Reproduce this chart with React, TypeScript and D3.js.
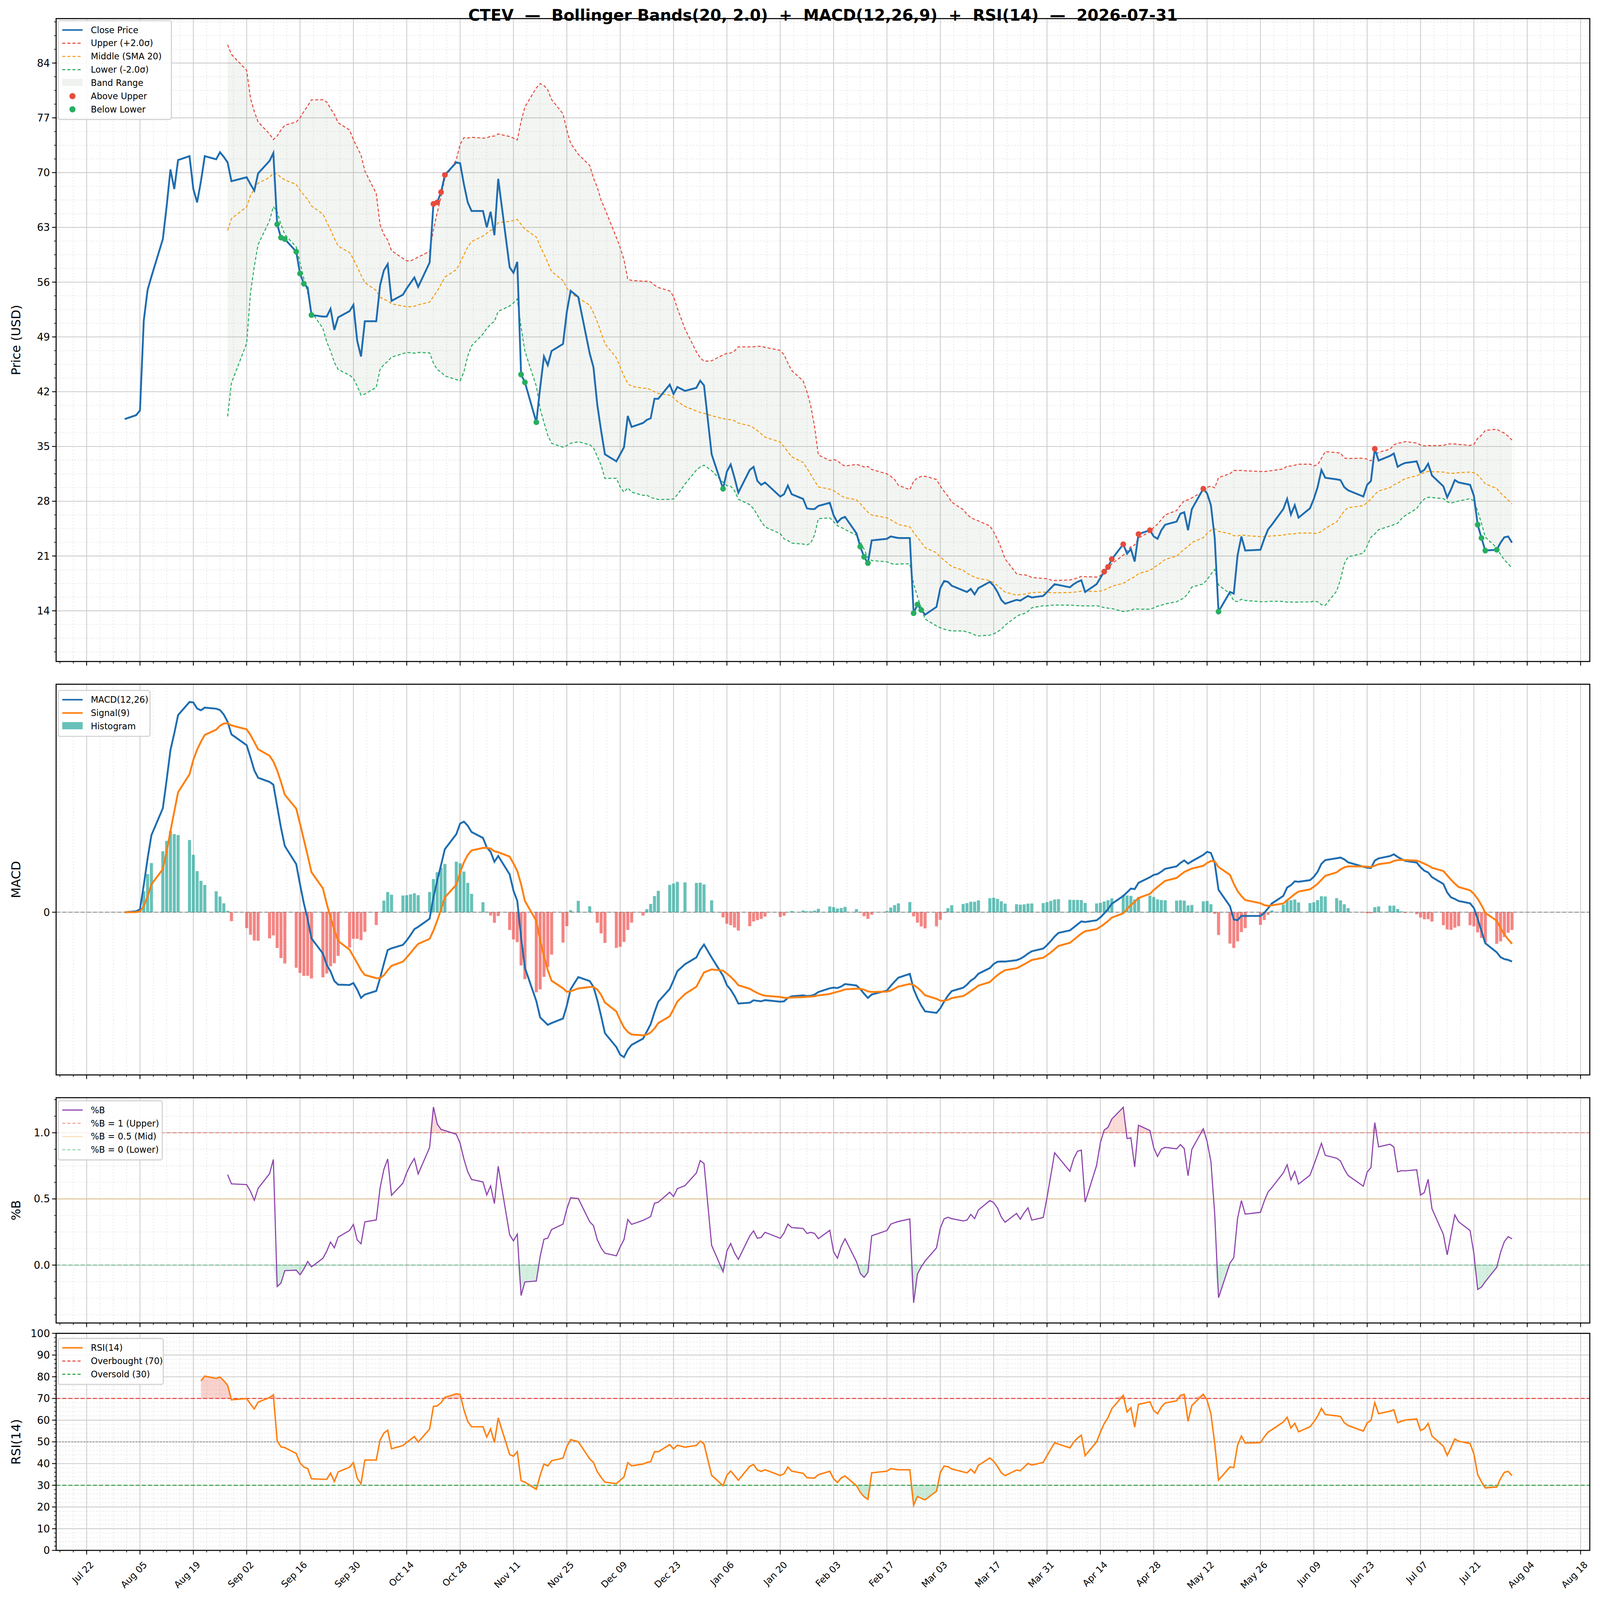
import React from 'react';
import * as d3 from 'd3';

// daily closes
const dates = [
	'2025-08-01','2025-08-04','2025-08-05','2025-08-06','2025-08-07','2025-08-08','2025-08-11','2025-08-12','2025-08-13','2025-08-14',
	'2025-08-15','2025-08-18','2025-08-19','2025-08-20','2025-08-21','2025-08-22','2025-08-25','2025-08-26','2025-08-27','2025-08-28',
	'2025-08-29','2025-09-02','2025-09-03','2025-09-04','2025-09-05','2025-09-08','2025-09-09','2025-09-10','2025-09-11','2025-09-12',
	'2025-09-15','2025-09-16','2025-09-17','2025-09-18','2025-09-19','2025-09-22','2025-09-23','2025-09-24','2025-09-25','2025-09-26',
	'2025-09-29','2025-09-30','2025-10-01','2025-10-02','2025-10-03','2025-10-06','2025-10-07','2025-10-08','2025-10-09','2025-10-10',
	'2025-10-13','2025-10-14','2025-10-15','2025-10-16','2025-10-17','2025-10-20','2025-10-21','2025-10-22','2025-10-23','2025-10-24',
	'2025-10-27','2025-10-28','2025-10-29','2025-10-30','2025-10-31','2025-11-03','2025-11-04','2025-11-05','2025-11-06','2025-11-07',
	'2025-11-10','2025-11-11','2025-11-12','2025-11-13','2025-11-14','2025-11-17','2025-11-18','2025-11-19','2025-11-20','2025-11-21',
	'2025-11-24','2025-11-25','2025-11-26','2025-11-28','2025-12-01','2025-12-02','2025-12-03','2025-12-04','2025-12-05','2025-12-08',
	'2025-12-09','2025-12-10','2025-12-11','2025-12-12','2025-12-15','2025-12-16','2025-12-17','2025-12-18','2025-12-19','2025-12-22',
	'2025-12-23','2025-12-24','2025-12-26','2025-12-29','2025-12-30','2025-12-31','2026-01-02','2026-01-05','2026-01-06','2026-01-07',
	'2026-01-08','2026-01-09','2026-01-12','2026-01-13','2026-01-14','2026-01-15','2026-01-16','2026-01-20','2026-01-21','2026-01-22',
	'2026-01-23','2026-01-26','2026-01-27','2026-01-28','2026-01-29','2026-01-30','2026-02-02','2026-02-03','2026-02-04','2026-02-05',
	'2026-02-06','2026-02-09','2026-02-10','2026-02-11','2026-02-12','2026-02-13','2026-02-17','2026-02-18','2026-02-19','2026-02-20',
	'2026-02-23','2026-02-24','2026-02-25','2026-02-26','2026-02-27','2026-03-02','2026-03-03','2026-03-04','2026-03-05','2026-03-06',
	'2026-03-09','2026-03-10','2026-03-11','2026-03-12','2026-03-13','2026-03-16','2026-03-17','2026-03-18','2026-03-19','2026-03-20',
	'2026-03-23','2026-03-24','2026-03-25','2026-03-26','2026-03-27','2026-03-30','2026-03-31','2026-04-01','2026-04-02','2026-04-03',
	'2026-04-06','2026-04-07','2026-04-08','2026-04-09','2026-04-10','2026-04-13','2026-04-14','2026-04-15','2026-04-16','2026-04-17',
	'2026-04-20','2026-04-21','2026-04-22','2026-04-23','2026-04-24','2026-04-27','2026-04-28','2026-04-29','2026-04-30','2026-05-01',
	'2026-05-04','2026-05-05','2026-05-06','2026-05-07','2026-05-08','2026-05-11','2026-05-12','2026-05-13','2026-05-14','2026-05-15',
	'2026-05-18','2026-05-19','2026-05-20','2026-05-21','2026-05-22','2026-05-26','2026-05-27','2026-05-28','2026-05-29','2026-06-01',
	'2026-06-02','2026-06-03','2026-06-04','2026-06-05','2026-06-08','2026-06-09','2026-06-10','2026-06-11','2026-06-12','2026-06-15',
	'2026-06-16','2026-06-17','2026-06-18','2026-06-22','2026-06-23','2026-06-24','2026-06-25','2026-06-26','2026-06-29','2026-06-30',
	'2026-07-01','2026-07-02','2026-07-03','2026-07-06','2026-07-07','2026-07-08','2026-07-09','2026-07-10','2026-07-13','2026-07-14',
	'2026-07-15','2026-07-16','2026-07-17','2026-07-20','2026-07-21','2026-07-22','2026-07-23','2026-07-24','2026-07-27','2026-07-28',
	'2026-07-29','2026-07-30','2026-07-31',
];

const closes = [
	38.5,39.0,39.6,51.1,55.0,56.7,61.5,65.7,70.4,67.9,
	71.6,72.1,67.9,66.2,68.9,72.1,71.7,72.6,72.0,71.3,
	68.9,69.4,68.5,67.7,69.9,71.5,72.5,63.4,61.7,61.5,
	59.9,57.1,55.8,55.3,51.8,51.6,51.6,52.6,49.9,51.5,
	52.3,53.1,48.5,46.5,51.0,51.0,55.6,57.5,58.3,53.6,
	54.4,55.2,55.9,56.6,55.4,58.5,66.0,66.2,67.5,69.7,
	71.3,71.2,68.5,66.2,65.1,65.1,63.0,65.0,62.0,69.2,
	57.9,57.2,58.6,44.2,43.2,38.1,42.5,46.5,45.4,47.2,
	48.1,52.2,54.9,54.1,46.9,45.1,40.3,37.0,34.0,33.1,
	34.0,34.9,38.9,37.5,38.0,38.4,38.6,41.1,41.1,42.9,
	41.7,42.6,42.1,42.5,43.4,42.8,34.0,29.6,31.8,32.7,
	31.0,29.1,32.0,32.4,30.6,30.1,30.4,28.6,28.9,30.0,
	28.9,28.3,27.1,27.0,27.0,27.4,27.8,26.2,25.3,25.8,
	26.0,23.9,22.2,20.9,20.1,23.0,23.2,23.5,23.4,23.3,
	23.3,13.7,14.8,14.1,13.5,14.5,16.9,17.8,17.7,17.2,
	16.6,16.4,16.8,16.1,16.9,17.7,17.2,16.4,15.4,14.9,
	15.4,15.3,15.6,15.9,15.7,15.9,16.4,16.9,17.4,17.3,
	17.0,17.4,17.7,17.9,16.4,17.4,18.2,19.0,19.6,20.6,
	22.5,21.3,21.9,20.3,23.8,24.3,23.5,23.2,24.3,25.0,
	25.4,26.4,26.6,24.3,27.0,29.6,29.0,27.5,23.3,13.9,
	16.4,16.2,21.1,23.5,21.7,21.8,23.2,24.4,25.0,27.0,
	28.3,26.3,27.5,25.9,27.1,28.3,29.8,32.0,31.0,30.8,
	30.7,29.8,29.4,28.6,30.1,30.6,34.7,33.2,33.8,34.1,
	32.4,32.7,32.9,33.1,31.7,32.0,32.8,31.3,29.9,28.5,
	29.5,30.7,30.4,30.1,28.7,25.0,23.3,21.7,21.8,22.7,
	23.4,23.5,22.7,
];

const priceTicks = [14, 21, 28, 35, 42, 49, 56, 63, 70, 77, 84];
const pctBTicks = [0, 0.5, 1];
const rsiTicks = [0, 10, 20, 30, 40, 50, 60, 70, 80, 90, 100];
const title = 'CTEV  —  Bollinger Bands(20, 2.0)  +  MACD(12,26,9)  +  RSI(14)  —  2026-07-31';

const W = 1568, H = 1548;
const L = 55, R = 1558;
const FONT = 'DejaVu Sans, sans-serif';
const C = {
	close: '#1f6db0', upper: '#e74c3c', mid: '#f39c12', lower: '#27ae60',
	signal: '#ff7f0e', up: '#26a69a', down: '#ef5350', pctb: '#8e44ad', rsi: '#ff7f0e',
};

const parse = d3.timeParse('%Y-%m-%d');
const T = dates.map((d) => parse(d) as Date);
const n = closes.length;

// indicators
const mid: (number | null)[] = [], up: (number | null)[] = [], lo: (number | null)[] = [];
for (let i = 0; i < n; i++) {
	if (i < 19) { mid.push(null); up.push(null); lo.push(null); continue; }
	const w = closes.slice(i - 19, i + 1);
	const m = d3.mean(w)!, s = d3.deviation(w)!;
	mid.push(m); up.push(m + 2 * s); lo.push(m - 2 * s);
}
const ema = (span: number, src: number[]) => {
	const a = 2 / (span + 1); const out: number[] = [];
	src.forEach((v, i) => out.push(i === 0 ? v : a * v + (1 - a) * out[i - 1]));
	return out;
};
const e12 = ema(12, closes), e26 = ema(26, closes);
const macd = closes.map((_, i) => e12[i] - e26[i]);
const signal = ema(9, macd);
const hist = macd.map((v, i) => v - signal[i]);
const pctB = closes.map((c, i) => (up[i] == null ? null : (c - lo[i]!) / (up[i]! - lo[i]!)));

// Wilder-style RSI (ewm alpha = 1/14)
const rsi: (number | null)[] = [];
{
	let ag = 0, al = 0;
	for (let i = 0; i < n; i++) {
		if (i === 0) { rsi.push(null); continue; }
		const d = closes[i] - closes[i - 1];
		const g = Math.max(d, 0), l = Math.max(-d, 0);
		if (i === 1) { ag = g; al = l; } else { ag = ag + (g - ag) / 14; al = al + (l - al) / 14; }
		rsi.push(i < 14 ? null : al === 0 ? 100 : 100 - 100 / (1 + ag / al));
	}
}

const x = d3.scaleTime().domain([new Date(2025, 6, 14), new Date(2026, 7, 20, 10)]).range([L, R]);
const P = { price: [18, 640], macd: [662, 1040], pctb: [1062, 1280], rsi: [1290, 1500] };
const yP = d3.scaleLinear().domain([7.52, 89.68]).range([P.price[1], P.price[0]]);
const mExt = d3.extent([...macd, ...signal, ...hist]) as [number, number];
const mPad = (mExt[1] - mExt[0]) * 0.05;
const yM = d3.scaleLinear().domain([mExt[0] - mPad, mExt[1] + mPad]).range([P.macd[1], P.macd[0]]);
const yB = d3.scaleLinear().domain([-0.4375, 1.265]).range([P.pctb[1], P.pctb[0]]);
const yR = d3.scaleLinear().domain([0, 100]).range([P.rsi[1], P.rsi[0]]);

const idx = d3.range(n);
const lineOf = (vals: (number | null)[], y: d3.ScaleLinear<number, number>) =>
	d3.line<number>().defined((i) => vals[i] != null).x((i) => x(T[i])).y((i) => y(vals[i] as number))(idx) || '';

const majorX = d3.range(0, 29).map((k) => d3.timeDay.offset(new Date(2025, 6, 22), k * 14)).filter((d) => x(d) < R);
const minorX = d3.range(-3, 116).map((k) => new Date(new Date(2025, 6, 22).getTime() + k * 3.5 * 864e5))
	.filter((d) => x(d) > L && x(d) < R);

function Grid({ top, bottom, y, major, minor }: any) {
	return (
		<g>
			{minorX.map((d, i) => <line key={'vx' + i} x1={x(d)} x2={x(d)} y1={top} y2={bottom} stroke="#e2e2e2" strokeWidth={0.5} strokeDasharray="1.5,1.5" />)}
			{minor.map((v: number, i: number) => <line key={'hy' + i} x1={L} x2={R} y1={y(v)} y2={y(v)} stroke="#e2e2e2" strokeWidth={0.5} strokeDasharray="1.5,1.5" />)}
			{majorX.map((d, i) => <line key={'mx' + i} x1={x(d)} x2={x(d)} y1={top} y2={bottom} stroke="#cccccc" strokeWidth={0.8} />)}
			{major.map((v: number, i: number) => <line key={'my' + i} x1={L} x2={R} y1={y(v)} y2={y(v)} stroke="#cccccc" strokeWidth={0.8} />)}
		</g>
	);
}

function Frame({ top, bottom, y, ticks, minor, fmt, label }: any) {
	return (
		<g fontFamily={FONT}>
			<rect x={L} y={top} width={R - L} height={bottom - top} fill="none" stroke="#000" strokeWidth={1} />
			{ticks.map((v: number, i: number) => (
				<g key={i}>
					<line x1={L - 4} x2={L} y1={y(v)} y2={y(v)} stroke="#000" strokeWidth={0.8} />
					<text x={L - 6} y={y(v)} dy="0.35em" textAnchor="end" fontSize={10}>{fmt(v)}</text>
				</g>
			))}
			{(minor || []).map((v: number, i: number) => <line key={'mn' + i} x1={L - 2} x2={L} y1={y(v)} y2={y(v)} stroke="#000" strokeWidth={0.6} />)}
			{majorX.map((d, i) => <line key={'t' + i} x1={x(d)} x2={x(d)} y1={bottom} y2={bottom + 4} stroke="#000" strokeWidth={0.8} />)}
			{minorX.map((d, i) => <line key={'m' + i} x1={x(d)} x2={x(d)} y1={bottom} y2={bottom + 2} stroke="#000" strokeWidth={0.6} />)}
			<text transform={`translate(20,${(top + bottom) / 2}) rotate(-90)`} textAnchor="middle" fontSize={12}>{label}</text>
		</g>
	);
}

function Legend({ x0, y0, w, items }: any) {
	return (
		<g fontFamily={FONT} fontSize={8.5}>
			<rect x={x0} y={y0} width={w} height={items.length * 12.8 + 6} fill="#fff" fillOpacity={0.85} stroke="#d0d0d0" rx={2} />
			{items.map((it: any, i: number) => {
				const cy = y0 + 9 + i * 12.8;
				return (
					<g key={i}>
						{it.kind === 'line' && <line x1={x0 + 4} x2={x0 + 24} y1={cy} y2={cy} stroke={it.color} strokeWidth={it.w || 1.5} strokeDasharray={it.dash} opacity={it.op || 1} />}
						{it.kind === 'rect' && <rect x={x0 + 4} y={cy - 4} width={20} height={7} fill={it.color} opacity={it.op || 1} />}
						{it.kind === 'dot' && <circle cx={x0 + 14} cy={cy} r={3} fill={it.color} />}
						<text x={x0 + 32} y={cy} dy="0.35em">{it.label}</text>
					</g>
				);
			})}
		</g>
	);
}

export default function App() {
	const band = d3.area<number>().defined((i) => up[i] != null).x((i) => x(T[i])).y0((i) => yP(lo[i]!)).y1((i) => yP(up[i]!))(idx) || '';
	const above = idx.filter((i) => up[i] != null && closes[i] > up[i]!);
	const below = idx.filter((i) => lo[i] != null && closes[i] < lo[i]!);
	const bw = 3.735 * 0.8;
	const fillAbove = (vals: (number | null)[], y: any, lvl: number) =>
		d3.area<number>().defined((i) => vals[i] != null).x((i) => x(T[i])).y0(y(lvl)).y1((i) => y(Math.max(vals[i]!, lvl)))(idx) || '';
	const fillBelow = (vals: (number | null)[], y: any, lvl: number) =>
		d3.area<number>().defined((i) => vals[i] != null).x((i) => x(T[i])).y0(y(lvl)).y1((i) => y(Math.min(vals[i]!, lvl)))(idx) || '';

	return (
		<svg viewBox={`0 0 ${W} ${H}`} preserveAspectRatio="none"
			style={{ position: 'fixed', left: 0, top: 0, width: '100vw', height: '100vh', background: '#fff', display: 'block' }}>
			<rect width={W} height={H} fill="#fff" />
			{/* price */}
			<Grid top={P.price[0]} bottom={P.price[1]} y={yP} major={priceTicks} minor={d3.range(8.75, 89.6, 1.75)} />
			<path d={band} fill="#6b806b" fillOpacity={0.08} />
			<path d={lineOf(up, yP)} fill="none" stroke={C.upper} strokeWidth={1} strokeDasharray="3,2" />
			<path d={lineOf(mid, yP)} fill="none" stroke={C.mid} strokeWidth={1} strokeDasharray="3,2" />
			<path d={lineOf(lo, yP)} fill="none" stroke={C.lower} strokeWidth={1} strokeDasharray="3,2" />
			<path d={lineOf(closes, yP)} fill="none" stroke={C.close} strokeWidth={1.8} />
			{above.map((i) => <circle key={'a' + i} cx={x(T[i])} cy={yP(closes[i])} r={2.8} fill={C.upper} />)}
			{below.map((i) => <circle key={'b' + i} cx={x(T[i])} cy={yP(closes[i])} r={2.8} fill={C.lower} />)}
			<Frame top={P.price[0]} bottom={P.price[1]} y={yP} ticks={priceTicks} minor={d3.range(8.75, 89.6, 1.75)} fmt={(v: number) => v} label="Price (USD)" />
			<Legend x0={57} y0={20} w={111} items={[
				{ kind: 'line', color: C.close, label: 'Close Price' },
				{ kind: 'line', color: C.upper, dash: '3,2', w: 1, label: 'Upper (+2.0σ)' },
				{ kind: 'line', color: C.mid, dash: '3,2', w: 1, label: 'Middle (SMA 20)' },
				{ kind: 'line', color: C.lower, dash: '3,2', w: 1, label: 'Lower (-2.0σ)' },
				{ kind: 'rect', color: '#6b806b', op: 0.1, label: 'Band Range' },
				{ kind: 'dot', color: C.upper, label: 'Above Upper' },
				{ kind: 'dot', color: C.lower, label: 'Below Lower' },
			]} />

			{/* macd */}
			<Grid top={P.macd[0]} bottom={P.macd[1]} y={yM} major={[0]} minor={[]} />
			<line x1={L} x2={R} y1={yM(0)} y2={yM(0)} stroke="#888" strokeWidth={0.8} strokeDasharray="4,2" />
			{idx.map((i) => (
				<rect key={'h' + i} x={x(T[i]) - bw / 2} width={bw} y={Math.min(yM(hist[i]), yM(0))} height={Math.abs(yM(hist[i]) - yM(0))}
					fill={hist[i] >= 0 ? C.up : C.down} opacity={0.7} />
			))}
			<path d={lineOf(macd, yM)} fill="none" stroke={C.close} strokeWidth={1.8} />
			<path d={lineOf(signal, yM)} fill="none" stroke={C.signal} strokeWidth={1.8} />
			<Frame top={P.macd[0]} bottom={P.macd[1]} y={yM} ticks={[0]} fmt={() => '0'} label="MACD" />
			<Legend x0={57} y0={668} w={90} items={[
				{ kind: 'line', color: C.close, label: 'MACD(12,26)' },
				{ kind: 'line', color: C.signal, label: 'Signal(9)' },
				{ kind: 'rect', color: C.up, op: 0.7, label: 'Histogram' },
			]} />

			{/* %B */}
			<Grid top={P.pctb[0]} bottom={P.pctb[1]} y={yB} major={pctBTicks} minor={d3.range(-0.375, 1.26, 0.125)} />
			<line x1={L} x2={R} y1={yB(1)} y2={yB(1)} stroke={C.upper} strokeWidth={0.8} strokeDasharray="4,2" opacity={0.6} />
			<line x1={L} x2={R} y1={yB(0.5)} y2={yB(0.5)} stroke={C.mid} strokeWidth={0.8} opacity={0.4} />
			<line x1={L} x2={R} y1={yB(0)} y2={yB(0)} stroke={C.lower} strokeWidth={0.8} strokeDasharray="4,2" opacity={0.6} />
			<path d={fillAbove(pctB, yB, 1)} fill={C.upper} fillOpacity={0.2} />
			<path d={fillBelow(pctB, yB, 0)} fill={C.lower} fillOpacity={0.2} />
			<path d={lineOf(pctB, yB)} fill="none" stroke={C.pctb} strokeWidth={1.1} />
			<Frame top={P.pctb[0]} bottom={P.pctb[1]} y={yB} ticks={pctBTicks} minor={d3.range(-0.375, 1.26, 0.125)} fmt={(v: number) => v.toFixed(1)} label="%B" />
			<Legend x0={57} y0={1065} w={102} items={[
				{ kind: 'line', color: C.pctb, w: 1.1, label: '%B' },
				{ kind: 'line', color: C.upper, dash: '3,2', w: 0.8, op: 0.6, label: '%B = 1 (Upper)' },
				{ kind: 'line', color: C.mid, w: 0.8, op: 0.4, label: '%B = 0.5 (Mid)' },
				{ kind: 'line', color: C.lower, dash: '3,2', w: 0.8, op: 0.6, label: '%B = 0 (Lower)' },
			]} />

			{/* rsi */}
			<Grid top={P.rsi[0]} bottom={P.rsi[1]} y={yR} major={rsiTicks} minor={d3.range(2, 100, 2)} />
			<line x1={L} x2={R} y1={yR(70)} y2={yR(70)} stroke="#e53935" strokeWidth={1} strokeDasharray="4,2" />
			<line x1={L} x2={R} y1={yR(50)} y2={yR(50)} stroke="#888" strokeWidth={0.8} strokeDasharray="1.5,1.5" />
			<line x1={L} x2={R} y1={yR(30)} y2={yR(30)} stroke="#2e9e3e" strokeWidth={1} strokeDasharray="4,2" />
			<path d={fillAbove(rsi, yR, 70)} fill={C.upper} fillOpacity={0.25} />
			<path d={fillBelow(rsi, yR, 30)} fill={C.lower} fillOpacity={0.25} />
			<path d={lineOf(rsi, yR)} fill="none" stroke={C.rsi} strokeWidth={1.4} />
			<Frame top={P.rsi[0]} bottom={P.rsi[1]} y={yR} ticks={rsiTicks} minor={d3.range(2, 100, 2)} fmt={(v: number) => v} label="RSI(14)" />
			<Legend x0={57} y0={1295} w={103} items={[
				{ kind: 'line', color: C.rsi, label: 'RSI(14)' },
				{ kind: 'line', color: '#e53935', dash: '3,2', w: 1, label: 'Overbought (70)' },
				{ kind: 'line', color: '#2e9e3e', dash: '3,2', w: 1, label: 'Oversold (30)' },
			]} />

			{/* x labels */}
			<g fontFamily={FONT} fontSize={9}>
				{majorX.map((d, i) => (
					<text key={i} transform={`translate(${x(d) + 3},${P.rsi[1] + 10}) rotate(-45)`} textAnchor="end" dy="0.7em">{d3.timeFormat('%b %d')(d)}</text>
				))}
			</g>
			<text x={(L + R) / 2} y={20} textAnchor="middle" fontFamily={FONT} fontWeight="bold" fontSize={15.5} style={{ whiteSpace: 'pre' }}>{title}</text>
		</svg>
	);
}
